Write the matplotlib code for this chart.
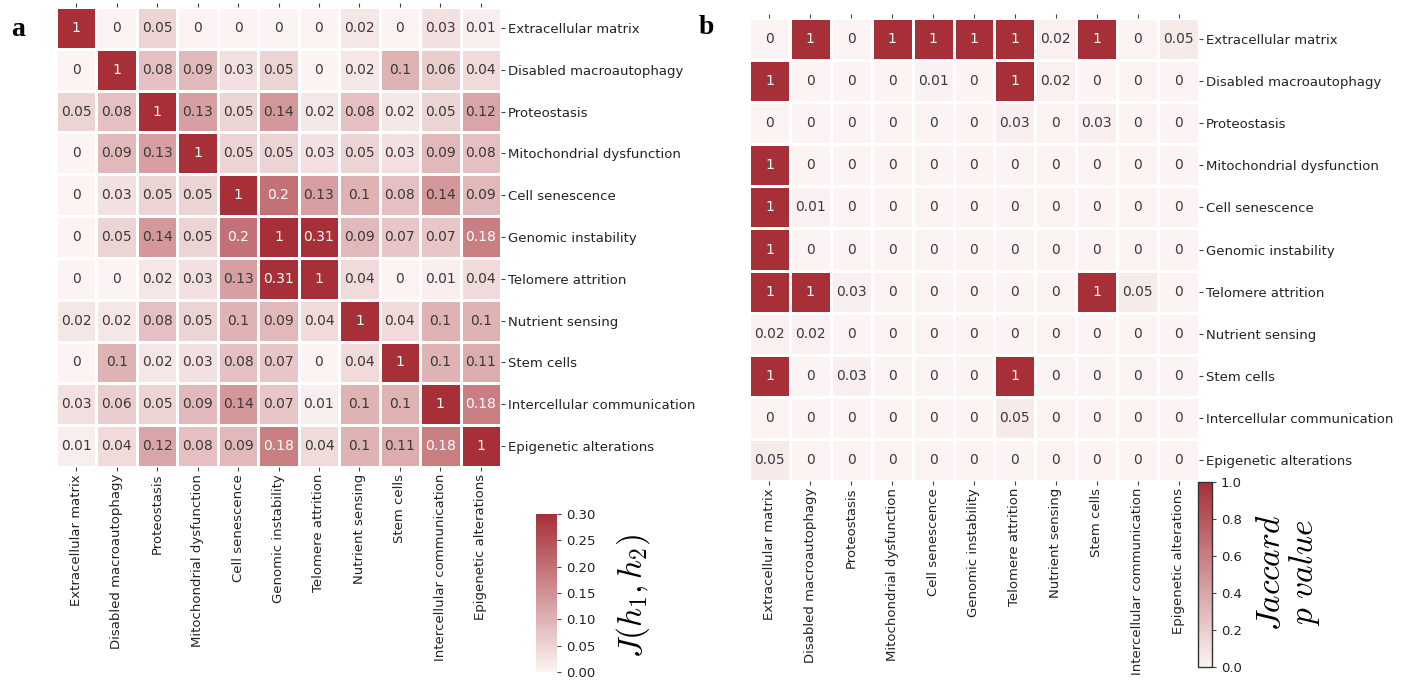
import numpy as np
import matplotlib
matplotlib.use("Agg")
import matplotlib.pyplot as plt
import seaborn as sns
from matplotlib.colors import LinearSegmentedColormap

hallmarks = ["Extracellular matrix", "Disabled macroautophagy", "Proteostasis",
             "Mitochondrial dysfunction", "Cell senescence", "Genomic instability",
             "Telomere attrition", "Nutrient sensing", "Stem cells",
             "Intercellular communication", "Epigenetic alterations"]

# panel a: Jaccard index between hallmark pairs
jaccard = [
    [1, 0, 0.05, 0, 0, 0, 0, 0.02, 0, 0.03, 0.01],
    [0, 1, 0.08, 0.09, 0.03, 0.05, 0, 0.02, 0.1, 0.06, 0.04],
    [0.05, 0.08, 1, 0.13, 0.05, 0.14, 0.02, 0.08, 0.02, 0.05, 0.12],
    [0, 0.09, 0.13, 1, 0.05, 0.05, 0.03, 0.05, 0.03, 0.09, 0.08],
    [0, 0.03, 0.05, 0.05, 1, 0.2, 0.13, 0.1, 0.08, 0.14, 0.09],
    [0, 0.05, 0.14, 0.05, 0.2, 1, 0.31, 0.09, 0.07, 0.07, 0.18],
    [0, 0, 0.02, 0.03, 0.13, 0.31, 1, 0.04, 0, 0.01, 0.04],
    [0.02, 0.02, 0.08, 0.05, 0.1, 0.09, 0.04, 1, 0.04, 0.1, 0.1],
    [0, 0.1, 0.02, 0.03, 0.08, 0.07, 0, 0.04, 1, 0.1, 0.11],
    [0.03, 0.06, 0.05, 0.09, 0.14, 0.07, 0.01, 0.1, 0.1, 1, 0.18],
    [0.01, 0.04, 0.12, 0.08, 0.09, 0.18, 0.04, 0.1, 0.11, 0.18, 1],
]

# panel b: Jaccard p values
pvals = [
    [0, 1, 0, 1, 1, 1, 1, 0.02, 1, 0, 0.05],
    [1, 0, 0, 0, 0.01, 0, 1, 0.02, 0, 0, 0],
    [0, 0, 0, 0, 0, 0, 0.03, 0, 0.03, 0, 0],
    [1, 0, 0, 0, 0, 0, 0, 0, 0, 0, 0],
    [1, 0.01, 0, 0, 0, 0, 0, 0, 0, 0, 0],
    [1, 0, 0, 0, 0, 0, 0, 0, 0, 0, 0],
    [1, 1, 0.03, 0, 0, 0, 0, 0, 1, 0.05, 0],
    [0.02, 0.02, 0, 0, 0, 0, 0, 0, 0, 0, 0],
    [1, 0, 0.03, 0, 0, 0, 1, 0, 0, 0, 0],
    [0, 0, 0, 0, 0, 0, 0.05, 0, 0, 0, 0],
    [0.05, 0, 0, 0, 0, 0, 0, 0, 0, 0, 0],
]

plt.rcParams['mathtext.fontset'] = 'cm'
plt.rcParams['font.family'] = ['DejaVu Sans']

cmap = LinearSegmentedColormap.from_list("reds", ["#fbf4f3", "#a72f37"])

W, H = 1413, 684
fig = plt.figure(figsize=(W / 100, H / 100), dpi=100)


def box(x0, y0, x1, y1):
    return [x0 / W, 1 - y1 / H, (x1 - x0) / W, (y1 - y0) / H]


def draw(ax, cax, data, vmax, white_from, ticks, fmt):
    data = np.array(data, dtype=float)
    sns.heatmap(data, ax=ax, cbar_ax=cax, cmap=cmap, vmin=0, vmax=vmax,
                annot=True, fmt='g', annot_kws={'fontsize': 10},
                linewidths=0.8, linecolor='white',
                xticklabels=hallmarks, yticklabels=hallmarks,
                cbar_kws={'ticks': ticks, 'format': fmt})
    for t, v in zip(ax.texts, data.flatten()):
        t.set_color('white' if v >= white_from else '#3a3a3a')
    ax.yaxis.tick_right()
    ax.tick_params(axis='y', labelrotation=0, labelsize=9.5, length=3,
                   color='#444444', labelcolor='#222222', pad=2)
    ax.tick_params(axis='x', labelrotation=90, labelsize=9.5, length=3,
                   color='#444444', labelcolor='#222222', top=True, pad=2)
    cax.tick_params(labelsize=9.5, length=3, color='#444444', labelcolor='#222222')
    return ax.collections[0].colorbar


ax_a = fig.add_axes(box(56, 7, 501, 467))
cax_a = fig.add_axes(box(536, 514, 557, 672))
cb_a = draw(ax_a, cax_a, jaccard, 0.30, 0.17, [0, 0.05, 0.10, 0.15, 0.20, 0.25, 0.30], '%.2f')
cb_a.outline.set_visible(False)

ax_b = fig.add_axes(box(749, 18, 1199, 481))
cax_b = fig.add_axes(box(1198, 482, 1212, 667))
cb_b = draw(ax_b, cax_b, pvals, 1.0, 0.5, [0, 0.2, 0.4, 0.6, 0.8, 1.0], '%.1f')
cb_b.outline.set_visible(True)
cb_b.outline.set_edgecolor('#333333')
cb_b.outline.set_linewidth(1)

fig.text(633 / W, 1 - 596 / H, r'$J(h_1,h_2)$', rotation=90,
         ha='center', va='center', fontsize=24)
fig.text(1288 / W, 1 - 573 / H, '$Jaccard$\n$p\\ value$', rotation=90,
         ha='center', va='center', fontsize=24, multialignment='center',
         linespacing=1.0)

fig.text(18 / W, 1 - 30 / H, 'a', fontsize=20, fontweight='bold',
         family='Liberation Serif', ha='center', va='center')
fig.text(706 / W, 1 - 28 / H, 'b', fontsize=20, fontweight='bold',
         family='Liberation Serif', ha='center', va='center')

fig.savefig('out.png', dpi=100, facecolor='white')
